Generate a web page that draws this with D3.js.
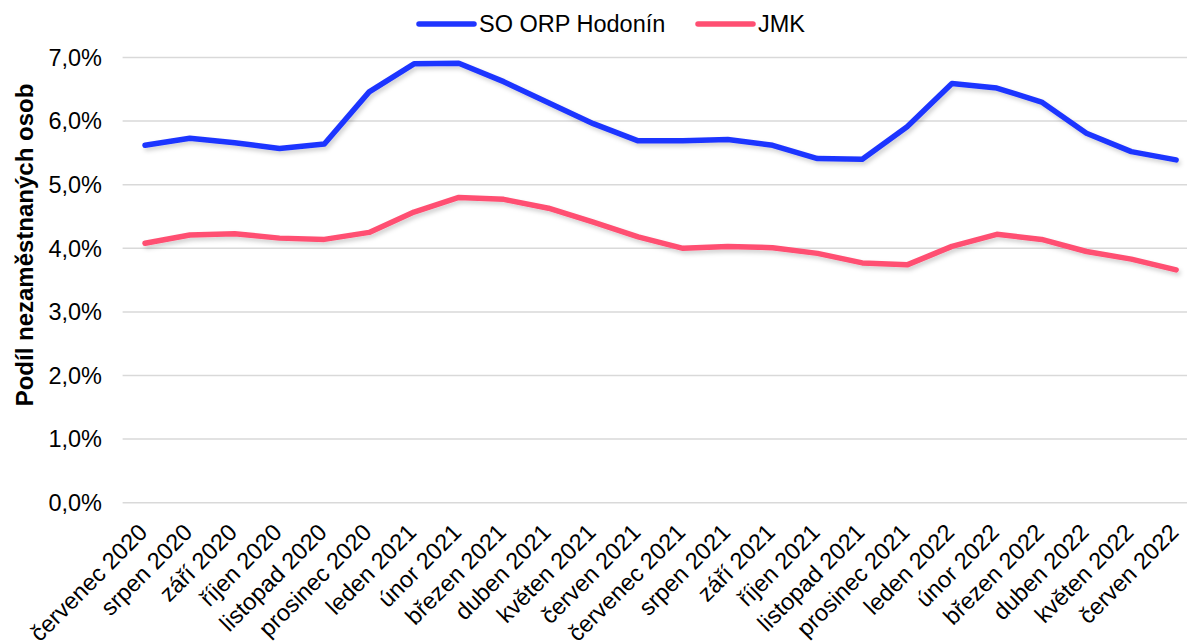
<!DOCTYPE html>
<html>
<head>
<meta charset="utf-8">
<script src="https://cdn.jsdelivr.net/npm/d3@7"></script>
<style>
  body { margin: 0; background: #fff; }
  svg { font-family: "Liberation Sans", Arial, sans-serif; }
</style>
</head>
<body>
<svg id="chart"></svg>
<script>
var months = [
    'červenec 2020', 'srpen 2020', 'září 2020', 'říjen 2020', 'listopad 2020', 'prosinec 2020',
    'leden 2021', 'únor 2021', 'březen 2021', 'duben 2021', 'květen 2021', 'červen 2021',
    'červenec 2021', 'srpen 2021', 'září 2021', 'říjen 2021', 'listopad 2021', 'prosinec 2021',
    'leden 2022', 'únor 2022', 'březen 2022', 'duben 2022', 'květen 2022', 'červen 2022'
];

var hodonin = [5.62, 5.73, 5.66, 5.57, 5.64, 6.46, 6.90, 6.91, 6.62, 6.29, 5.96, 5.69,
               5.69, 5.71, 5.62, 5.41, 5.40, 5.91, 6.59, 6.52, 6.30, 5.81, 5.52, 5.39];
var jmk = [4.08, 4.21, 4.23, 4.16, 4.14, 4.25, 4.57, 4.80, 4.77, 4.63, 4.41, 4.18,
           4.00, 4.03, 4.01, 3.92, 3.77, 3.74, 4.03, 4.22, 4.14, 3.95, 3.83, 3.66];

var yTicks = [0, 1, 2, 3, 4, 5, 6, 7];

var series = [
    { name: 'SO ORP Hodonín', values: hodonin, color: '#1F35FF' },
    { name: 'JMK', values: jmk, color: '#FF4F72' }
];

var width = 1187, height = 641;
var fontSize = '23.5px';

var svg = d3.select('svg#chart')
    .attr('width', width)
    .attr('height', height);

var defs = svg.append('defs');
var shadow = defs.append('filter')
    .attr('id', 'shadow')
    .attr('x', '-5%').attr('y', '-20%')
    .attr('width', '110%').attr('height', '140%');
shadow.append('feDropShadow')
    .attr('dx', 2).attr('dy', 3)
    .attr('stdDeviation', 2)
    .attr('flood-color', '#000')
    .attr('flood-opacity', 0.18);

var x = d3.scaleBand()
    .domain(months)
    .range([122.6, 122.6 + 24 * 44.83])
    .padding(0);

var y = d3.scaleLinear()
    .domain([0, 7])
    .range([502.7, 57.5]);

var cx = function (m) { return x(m) + x.bandwidth() / 2; };

// gridlines
svg.append('g')
    .classed('grid', true)
    .selectAll('line')
    .data(yTicks)
    .enter().append('line')
    .attr('x1', x.range()[0])
    .attr('x2', x.range()[1])
    .attr('y1', function (d) { return y(d); })
    .attr('y2', function (d) { return y(d); })
    .attr('stroke', '#d9d9d9')
    .attr('stroke-width', 1.5);

// y axis labels
svg.append('g')
    .selectAll('text')
    .data(yTicks)
    .enter().append('text')
    .attr('x', 102)
    .attr('y', function (d) { return y(d); })
    .attr('dy', '0.35em')
    .attr('text-anchor', 'end')
    .style('font-size', fontSize)
    .attr('fill', '#000')
    .text(function (d) { return d3.format('.1f')(d).replace('.', ',') + '%'; });

// y axis title
svg.append('text')
    .attr('transform', 'translate(33,245) rotate(-90)')
    .attr('text-anchor', 'middle')
    .style('font-size', '24px')
    .style('font-weight', 'bold')
    .text('Podíl nezaměstnaných osob');

// x axis labels
svg.append('g')
    .selectAll('text')
    .data(months)
    .enter().append('text')
    .attr('transform', function (d) {
        return 'translate(' + (cx(d) - 2) + ',528) rotate(-45)';
    })
    .attr('dy', '0.35em')
    .attr('text-anchor', 'end')
    .style('font-size', fontSize)
    .text(function (d) { return d; });

// lines
var line = d3.line()
    .x(function (d, i) { return cx(months[i]); })
    .y(function (d) { return y(d); });

svg.append('g')
    .selectAll('path')
    .data(series)
    .enter().append('path')
    .attr('d', function (s) { return line(s.values); })
    .attr('fill', 'none')
    .attr('stroke', function (s) { return s.color; })
    .attr('stroke-width', 5.5)
    .attr('stroke-linejoin', 'round')
    .attr('stroke-linecap', 'round')
    .attr('filter', 'url(#shadow)');

// legend
var legendX = [419, 698];
var legend = svg.append('g')
    .selectAll('g.legend')
    .data(series)
    .enter().append('g')
    .classed('legend', true)
    .attr('transform', function (d, i) { return 'translate(' + legendX[i] + ',24)'; });
legend.append('line')
    .attr('x1', 0).attr('x2', 55)
    .attr('stroke', function (d) { return d.color; })
    .attr('stroke-width', 5.5)
    .attr('stroke-linecap', 'round');
legend.append('text')
    .attr('x', 60)
    .attr('y', 8)
    .style('font-size', fontSize)
    .text(function (d) { return d.name; });
</script>
</body>
</html>
